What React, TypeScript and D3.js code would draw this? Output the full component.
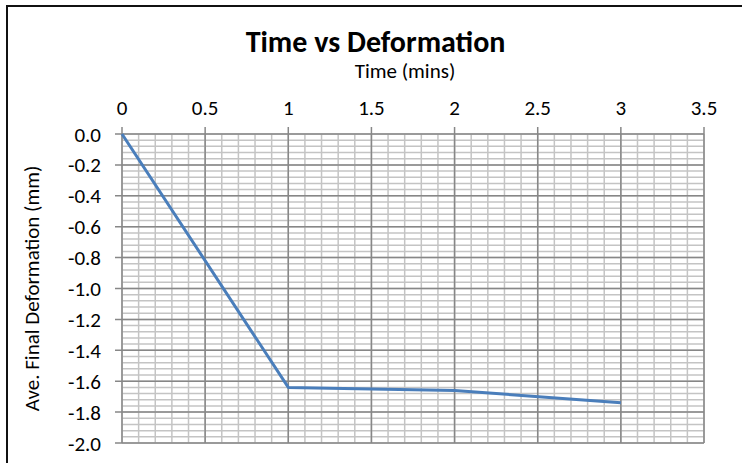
import React from "react";
import * as d3 from "d3";

// ---- data ----
const timeMins: number[] = [0, 1, 2, 3];
const deformation: number[] = [0, -1.64, -1.66, -1.74];

const xTickValues: number[] = [0, 0.5, 1, 1.5, 2, 2.5, 3, 3.5];
const yTickValues: number[] = [0, -0.2, -0.4, -0.6, -0.8, -1.0, -1.2, -1.4, -1.6, -1.8, -2.0];

const chartTitle = "Time vs Deformation";
const xAxisTitle = "Time (mins)";
const yAxisTitle = "Ave. Final Deformation (mm)";

const W = 742;
const H = 463;
const FONT = "Carlito, Calibri, Lato, 'Open Sans', sans-serif";

export default function App() {
  const x = d3.scaleLinear().domain([0, 3.5]).range([122, 704]);
  const y = d3.scaleLinear().domain([-2, 0]).range([443, 134]);

  const xMinor = d3.range(0, 36).map((i) => i / 10);
  const yMinor = d3.range(0, 51).map((i) => -i * 0.04);

  const line = d3
    .line<number>()
    .x((_, i) => x(timeMins[i]))
    .y((d) => y(d));

  const [x0, x1] = x.range();
  const [yb, yt] = y.range();

  return (
    <div style={{ position: "absolute", left: 0, top: 0, width: W, height: H, background: "#fff" }}>
      <svg width={W} height={H} style={{ display: "block" }}>
        <rect x={0} y={0} width={W} height={H} fill="#fff" />
        {/* minor gridlines */}
        <g stroke="#c4c4c4" strokeWidth={1.5}>
          {xMinor.map((v, i) => (
            <line key={"xm" + i} x1={x(v)} x2={x(v)} y1={yt} y2={yb} />
          ))}
          {yMinor.map((v, i) => (
            <line key={"ym" + i} x1={x0} x2={x1} y1={y(v)} y2={y(v)} />
          ))}
        </g>
        {/* major gridlines */}
        <g stroke="#878787" strokeWidth={1.5}>
          {xTickValues.map((v, i) => (
            <line key={"xM" + i} x1={x(v)} x2={x(v)} y1={yt - 7} y2={yb} />
          ))}
          {yTickValues.map((v, i) => (
            <line key={"yM" + i} x1={x0 - 7} x2={x1} y1={y(v)} y2={y(v)} />
          ))}
        </g>
        {/* data line */}
        <path d={line(deformation) || ""} fill="none" stroke="#4a7ebb" strokeWidth={3} strokeLinejoin="round" />
        {/* x tick labels */}
        <g fontFamily={FONT} fontSize={21} fill="#000" textAnchor="middle">
          {xTickValues.map((v, i) => (
            <text key={"xl" + i} x={x(v)} y={yt - 19}>
              {String(v)}
            </text>
          ))}
        </g>
        {/* y tick labels */}
        <g fontFamily={FONT} fontSize={21} fill="#000" textAnchor="end">
          {yTickValues.map((v, i) => (
            <text key={"yl" + i} x={x0 - 21} y={y(v) + 7.5}>
              {v.toFixed(1)}
            </text>
          ))}
        </g>
        {/* titles */}
        <text x={375.5} y={52} fontFamily={FONT} fontSize={30} fontWeight="bold" textAnchor="middle" fill="#000">
          {chartTitle}
        </text>
        <text x={405} y={78} fontFamily={FONT} fontSize={21} textAnchor="middle" fill="#000">
          {xAxisTitle}
        </text>
        <text
          transform={`translate(39, ${(yt + yb) / 2}) rotate(-90)`}
          fontFamily={FONT}
          fontSize={21}
          textAnchor="middle"
          fill="#000"
        >
          {yAxisTitle}
        </text>
        {/* chart border */}
        <rect x={7} y={6} width={760} height={480} fill="none" stroke="#111" strokeWidth={2} />
      </svg>
    </div>
  );
}
